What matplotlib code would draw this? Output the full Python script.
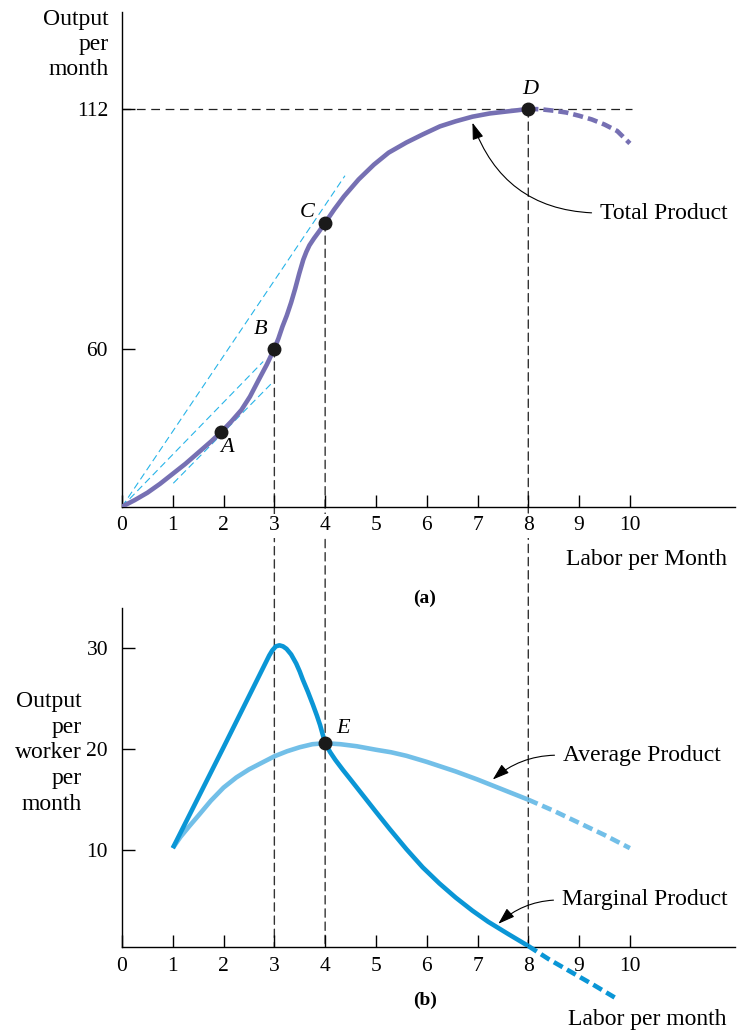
import numpy as np
import matplotlib

matplotlib.use('Agg')
import matplotlib.pyplot as plt
from matplotlib.patches import ConnectionPatch

plt.rcParams['font.family'] = ['Liberation Serif', 'DejaVu Serif']
plt.rcParams['font.size'] = 15.5

# --- values ---
labor_ticks = list(range(11))
tp_ticks = [60, 112]
per_worker_ticks = [10, 20, 30]

# total product (solid up to D, dashed after)
tp_labor = [0, 0.25, 0.5, 0.75, 1.0, 1.25, 1.5, 1.75, 1.95, 2.15, 2.35, 2.52, 2.69,
            2.85, 3.0, 3.08, 3.16, 3.245, 3.33, 3.41, 3.49, 3.57, 3.63, 3.69, 3.78,
            3.88, 4.0, 4.18, 4.37, 4.66, 4.96, 5.25, 5.6, 5.93, 6.26, 6.57, 6.9,
            7.24, 7.55, 7.79, 8.0]
tp_output = [0, 2.5, 5.3, 8.7, 12.5, 16.3, 20.5, 24.7, 28.3, 32.3, 36.7, 41.8, 48.1,
             53.9, 60.0, 62.2, 64.8, 67.2, 70.0, 73.0, 76.3, 79.3, 81.0, 82.4, 83.9,
             85.4, 87.3, 90.2, 93.0, 96.7, 99.9, 102.5, 104.7, 106.5, 108.2, 109.3,
             110.3, 111.0, 111.4, 111.7, 112.0]
tp_ext_labor = [8.0, 8.25, 8.5, 8.75, 9.0, 9.25, 9.5, 9.75, 10.0]
tp_ext_output = [112.0, 111.9, 111.6, 111.2, 110.5, 109.7, 108.6, 107.2, 104.5]

# rays / tangent drawn in light blue
ray_labor = [[0, 4.39], [0, 2.78], [1.01, 2.95]]
ray_output = [[0, 97.5], [0, 55.1], [8.9, 46.9]]

# marked points on total product
pts_labor = [1.95, 3.0, 4.0, 8.0]
pts_output = [28.3, 60.0, 87.3, 112.0]
pts_names = ['A', 'B', 'C', 'D']

# marginal product
mp_labor = [1.0, 2.0, 2.9, 2.96, 3.03, 3.1, 3.17, 3.24, 3.33, 3.43, 3.5, 3.56, 3.66,
            3.76, 3.84, 3.9, 3.95, 4.0, 4.1, 4.2, 4.35, 4.5, 4.75, 5.0, 5.27, 5.6,
            5.92, 6.25, 6.57, 6.9, 7.21, 7.6, 8.0]
mp_value = [10.2, 20.2, 29.3, 29.8, 30.2, 30.3, 30.2, 29.95, 29.4, 28.5, 27.7, 26.9,
            25.7, 24.4, 23.3, 22.4, 21.5, 20.6, 19.7, 18.95, 17.95, 17.0, 15.4, 13.8,
            12.1, 10.1, 8.3, 6.7, 5.3, 4.0, 2.9, 1.7, 0.5]
mp_ext_labor = [8.0, 8.4, 8.85, 9.3, 9.7]
mp_ext_value = [0.5, -0.8, -2.1, -3.4, -4.6]

# average product
ap_labor = [1.0, 1.15, 1.33, 1.5, 1.75, 2.0, 2.25, 2.5, 2.73, 3.0, 3.25, 3.5, 3.75,
            4.0, 4.3, 4.62, 5.0, 5.3, 5.6, 6.0, 6.3, 6.57, 7.0, 7.35, 7.7, 8.0]
ap_value = [10.2, 11.3, 12.4, 13.4, 14.9, 16.2, 17.2, 18.0, 18.6, 19.3, 19.8, 20.2,
            20.5, 20.6, 20.5, 20.3, 19.95, 19.7, 19.35, 18.75, 18.25, 17.8, 17.0,
            16.3, 15.6, 15.0]
ap_ext_labor = [8.0, 8.5, 9.0, 9.5, 10.0]
ap_ext_value = [15.0, 13.9, 12.7, 11.5, 10.2]

TP_COL = '#7670b3'
MP_COL = '#0a96d6'
AP_COL = '#72bfe8'
RAY_COL = '#27b4e8'
LABEL_SIZE = 17


# the total product axis is drawn with two different spacings (below / above 60)
def tp_fwd(y):
    return np.interp(y, [-500, 0, 60, 500], [-1316.5, 0, 158, 158 + 440 * 4.61])


def tp_inv(v):
    return np.interp(v, [-1316.5, 0, 158, 158 + 440 * 4.61], [-500, 0, 60, 500])


fig = plt.figure(figsize=(7.38, 10.31), dpi=100)
ax1 = fig.add_axes([122 / 738, 1 - 506.7 / 1031, 613 / 738, 494.7 / 1031])
ax2 = fig.add_axes([122 / 738, 1 - 947 / 1031, 613 / 738, 339 / 1031])

for ax in (ax1, ax2):
    ax.spines[['top', 'right']].set_visible(False)
    ax.spines['left'].set_linewidth(1.0)
    ax.spines['bottom'].set_linewidth(1.0)
    ax.tick_params(direction='in', length=9, width=1.0, labelsize=15.5)
    ax.tick_params(axis='x', pad=7)
    ax.tick_params(axis='y', pad=10)
    ax.set_xlim(0, 12.07)
    ax.set_xticks(labor_ticks)
    ax.patch.set_visible(False)
    ax.set_zorder(2)

arrow_kw = dict(arrowstyle='-|>,head_length=0.6,head_width=0.2', color='black',
                lw=0.8, relpos=(0, 0.5), shrinkA=4, shrinkB=0)

# ---------- (a) total product ----------
ax1.set_yscale('function', functions=(tp_fwd, tp_inv))
ax1.set_ylim(0, 133.0)
ax1.set_yticks(tp_ticks)
ax1.yaxis.set_minor_locator(matplotlib.ticker.NullLocator())
for lab in ax1.get_xticklabels():
    lab.set_bbox(dict(facecolor='white', edgecolor='none', pad=1.5))

ax1.plot([0, 10.04], [112, 112], color='#222222', lw=0.9,
         linestyle=(0, (7, 4.5)), zorder=1)
for rx, ry in zip(ray_labor, ray_output):
    ax1.plot(rx, ry, color=RAY_COL, lw=0.8, linestyle=(0, (6.3, 3.6)), zorder=2)

ax1.plot(tp_labor, tp_output, color=TP_COL, lw=3.3, solid_capstyle='butt',
         solid_joinstyle='round', zorder=3)
ax1.plot(tp_ext_labor, tp_ext_output, color=TP_COL, lw=3.3,
         linestyle=(0, (2.2, 1.1)), zorder=3)
ax1.plot(pts_labor, pts_output, 'o', ms=9, color='#1a1a1a', zorder=5)

label_pos = [(2.07, 22.3), (2.72, 64.1), (3.65, 89.5), (8.03, 116.3)]
for name, (lx, ly) in zip(pts_names, label_pos):
    ax1.text(lx, ly, name, style='italic', ha='center', va='center', fontsize=16)

ax1.annotate("Total Product", xy=(6.9, 109.0), xytext=(9.41, 89.4),
             ha='left', va='center', fontsize=LABEL_SIZE,
             arrowprops=dict(connectionstyle='arc3,rad=-0.35', **arrow_kw))

# ---------- (b) average and marginal product ----------
ax2.set_ylim(0.4, 34.0)
ax2.set_yticks(per_worker_ticks)

ax2.plot(ap_labor, ap_value, color=AP_COL, lw=3.3, solid_capstyle='butt',
         solid_joinstyle='round', zorder=3)
ax2.plot(ap_ext_labor, ap_ext_value, color=AP_COL, lw=3.3,
         linestyle=(0, (2.2, 1.1)), zorder=3, clip_on=False)
ax2.plot(mp_labor, mp_value, color=MP_COL, lw=3.3, solid_capstyle='butt',
         solid_joinstyle='round', zorder=4)
ax2.plot(mp_ext_labor, mp_ext_value, color=MP_COL, lw=3.3,
         linestyle=(0, (2.2, 1.1)), zorder=4, clip_on=False)
ax2.plot([4.0], [20.6], 'o', ms=9, color='#1a1a1a', zorder=5)
ax2.text(4.35, 22.1, 'E', style='italic', ha='center', va='center', fontsize=16)

ax2.annotate("Average Product", xy=(7.3, 17.0), xytext=(8.68, 19.4),
             ha='left', va='center', fontsize=LABEL_SIZE,
             arrowprops=dict(connectionstyle='arc3,rad=0.2', **arrow_kw))
ax2.annotate("Marginal Product", xy=(7.41, 2.7), xytext=(8.66, 5.06),
             ha='left', va='center', fontsize=LABEL_SIZE,
             arrowprops=dict(connectionstyle='arc3,rad=0.2', **arrow_kw))

# dashed drop lines running from panel (a) down to the axis of panel (b)
for px, py in zip(pts_labor[1:], pts_output[1:]):
    con = ConnectionPatch(xyA=(px, py), coordsA=ax1.transData,
                          xyB=(px, 0), coordsB=ax2.get_xaxis_transform(),
                          color='#333333', lw=1.0, linestyle=(0, (6, 3.5)))
    con.set_zorder(1)
    fig.add_artist(con)

# axis titles and panel labels
fig.text(109 / 738, 1 - 9 / 1031, "Output\nper\nmonth", ha='right', va='top',
         multialignment='right', linespacing=1.25, fontsize=LABEL_SIZE)
fig.text(82 / 738, 1 - 753 / 1031, "Output\nper\nworker\nper\nmonth", ha='right',
         va='center', multialignment='right', linespacing=1.3, fontsize=LABEL_SIZE)
fig.text(727 / 738, 1 - 560 / 1031, "Labor per Month", ha='right', va='center',
         fontsize=LABEL_SIZE)
fig.text(727 / 738, 1 - 1020 / 1031, "Labor per month", ha='right', va='center',
         fontsize=LABEL_SIZE)
fig.text(425 / 738, 1 - 598 / 1031, "(a)", ha='center', va='center',
         fontweight='bold', fontsize=14)
fig.text(425 / 738, 1 - 1000 / 1031, "(b)", ha='center', va='center',
         fontweight='bold', fontsize=14)

fig.savefig("out.png", dpi=100)
plt.close(fig)
